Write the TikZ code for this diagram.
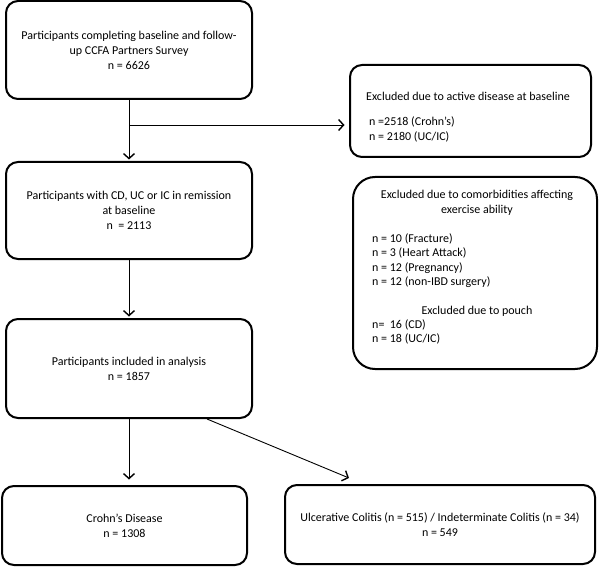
\documentclass[tikz,border=0pt]{standalone}
\usepackage{fontspec}
\setmainfont{Carlito}
\usetikzlibrary{arrows.meta,calc}
\tikzset{
  box/.style={draw, line width=2pt, rounded corners=12pt, align=center, inner sep=0pt,
    font=\fontsize{12}{15}\selectfont},
  bigbox/.style={box, rounded corners=22pt},
  txt/.style={inner sep=0pt, font=\fontsize{12}{15}\selectfont},
  conn/.style={line width=0.9pt, -{Straight Barb[length=5pt,width=11pt,line width=1.4pt]}},
  plain/.style={line width=0.9pt}
}
\begin{document}
\begin{tikzpicture}[x=1pt,y=-1pt]
\useasboundingbox (0,0) rectangle (600,567);
% boxes
\node[box, minimum width=246pt, minimum height=98pt] (b1) at (129,50)
  {Participants completing baseline and follow-\\up CCFA Partners Survey\\n = 6626};
\node[box, minimum width=241pt, minimum height=92pt] (e1) at (470.5,111) {};
\node[box, minimum width=246pt, minimum height=97pt] (b2) at (129,210.5)
  {Participants with CD, UC or IC in remission\\at baseline\\n~ = 2113};
\node[bigbox, minimum width=244pt, minimum height=192pt] (e2) at (475,273) {};
\node[box, minimum width=246pt, minimum height=99pt] (b3) at (129,368.5)
  {Participants included in analysis\\n = 1857};
\node[box, minimum width=245pt, minimum height=79pt] (cd) at (124.5,525.5)
  {Crohn’s Disease\\n = 1308};
\node[box, minimum width=310pt, minimum height=79pt] (uc) at (440,524.5)
  {Ulcerative Colitis (n = 515) / Indeterminate Colitis (n = 34)\\n = 549};
% texts of exclusion boxes
\node[txt, anchor=base] (e1t) at (468,101) {Excluded due to active disease at baseline};
\node[txt, anchor=base west] (e1a) at (369,126) {n =2518 (Crohn’s)};
\node[txt, anchor=base west] (e1b) at (369,141) {n = 2180 (UC/IC)};
\node[txt, anchor=base] (e2t1) at (477,199) {Excluded due to comorbidities affecting};
\node[txt, anchor=base] (e2t2) at (477,213) {exercise ability};
\node[txt, anchor=base west] (e2a) at (372,242) {n = 10 (Fracture)};
\node[txt, anchor=base west] (e2b) at (372,256.5) {n = 3 (Heart Attack)};
\node[txt, anchor=base west] (e2c) at (372,271) {n = 12 (Pregnancy)};
\node[txt, anchor=base west] (e2d) at (372,285) {n = 12 (non-IBD surgery)};
\node[txt, anchor=base] (e2t3) at (477,314) {Excluded due to pouch};
\node[txt, anchor=base west] (e2e) at (372,328) {n=~ 16 (CD)};
\node[txt, anchor=base west] (e2f) at (372,342) {n = 18 (UC/IC)};
% connectors
\coordinate (br) at (b1.south |- 0,125);
\draw[conn, shorten >=1.5pt] (b1.south) -- (b2.north);
\draw[conn, shorten >=4.5pt] (br) -- (br -| e1.west);
\draw[conn, shorten >=1.5pt] (b2.south) -- (b2.south |- b3.north);
\coordinate (cdtop) at (b3.south |- cd.north);
\draw[conn, shorten >=5.5pt] (b3.south) -- (cdtop);
\coordinate (dstart) at ([xshift=78pt]b3.south);
\coordinate (dend) at (349,478);
\draw[conn] (dstart) -- (dend);
\end{tikzpicture}
\end{document}
